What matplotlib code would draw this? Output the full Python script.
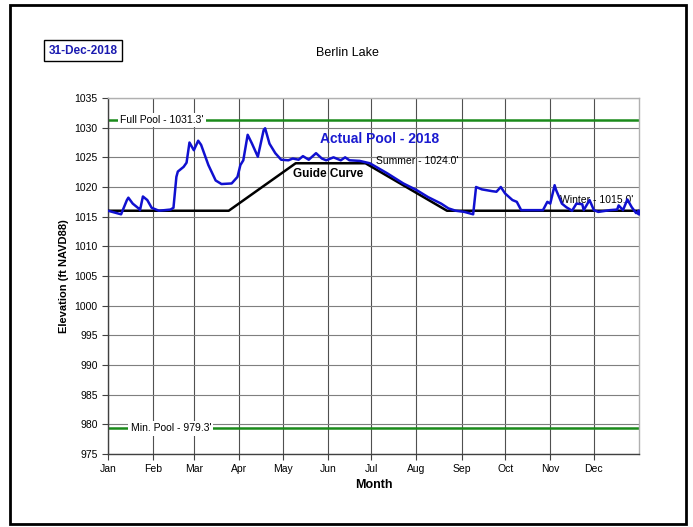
import matplotlib
matplotlib.use("Agg")
import matplotlib.pyplot as plt
from matplotlib.patches import Rectangle

plt.rcParams['font.family'] = ['Liberation Sans', 'DejaVu Sans']

# ---- data ----
months = ["Jan", "Feb", "Mar", "Apr", "May", "Jun", "Jul", "Aug", "Sep", "Oct", "Nov", "Dec"]
month_start_days = [0, 31, 59, 90, 120, 151, 181, 212, 243, 273, 304, 334]
y_ticks = list(range(975, 1036, 5))

actual_days = [0, 9, 13, 14, 17, 21, 22, 24, 27, 30, 35, 43, 45, 47, 48, 52, 54, 56, 59, 62,
               64, 69, 74, 78, 85, 89, 91, 93, 96, 99, 103, 107, 108, 111, 115, 119, 124,
               127, 131, 134, 138, 143, 147, 150, 155, 160, 163, 166, 173, 180, 192, 203,
               212, 220, 229, 234, 239, 245, 251, 253, 257, 264, 267, 270, 273, 278, 281,
               284, 294, 299, 302, 304, 307, 308, 312, 315, 319, 322, 326, 327, 331, 334,
               337, 345, 350, 351, 354, 357, 360, 363, 365]
actual_elev = [1016.0, 1015.4, 1017.8, 1018.2, 1017.2, 1016.4, 1016.1, 1018.4, 1017.8, 1016.5,
               1016.0, 1016.2, 1016.5, 1021.7, 1022.6, 1023.4, 1024.1, 1027.5, 1026.2, 1027.8,
               1027.1, 1023.7, 1021.1, 1020.5, 1020.6, 1021.7, 1023.7, 1024.5, 1028.8, 1027.3,
               1025.1, 1029.6, 1029.9, 1027.3, 1025.7, 1024.6, 1024.5, 1024.8, 1024.6, 1025.2,
               1024.6, 1025.7, 1024.8, 1024.5, 1025.0, 1024.5, 1025.0, 1024.5, 1024.4, 1024.0,
               1022.3, 1020.6, 1019.5, 1018.3, 1017.2, 1016.4, 1016.0, 1015.8, 1015.4, 1020.0,
               1019.6, 1019.3, 1019.2, 1020.0, 1018.9, 1017.8, 1017.5, 1016.1, 1016.1, 1016.1,
               1017.5, 1017.2, 1020.3, 1019.5, 1017.2, 1016.6, 1016.0, 1017.2, 1017.1, 1016.1,
               1017.8, 1016.1, 1015.8, 1016.1, 1016.2, 1016.9, 1016.1, 1017.9, 1016.6, 1015.6,
               1015.8]

guide_days = [0, 83, 129, 177, 233, 365]
guide_elev = [1016.0, 1016.0, 1024.0, 1024.0, 1016.0, 1016.0]

full_pool = 1031.3
min_pool = 979.3

# ---- figure ----
fig = plt.figure(figsize=(6.93, 5.27), dpi=100)
fig.patch.set_facecolor("white")
fig.add_artist(Rectangle((9.5 / 693, 1 - 524 / 527), 676 / 693, 519 / 527,
                         transform=fig.transFigure, fill=False, edgecolor="black", linewidth=2))

ax = fig.add_axes([108 / 693, 1 - 454 / 527, 531 / 693, 356 / 527])
ax.set_xlim(0, 365)
ax.set_ylim(975, 1035)

ax.set_yticks(y_ticks)
ax.set_yticklabels([str(v) for v in y_ticks], fontsize=7.5)
ax.set_xticks(month_start_days)
ax.set_xticklabels(months, fontsize=7.5)
ax.tick_params(axis="both", direction="out", length=4, width=0.8, colors="#404040", labelcolor="black")

ax.grid(axis="y", color="#7f7f7f", linewidth=0.8)
ax.grid(axis="x", color="#505050", linewidth=0.8)
ax.set_axisbelow(True)

for s in ["top", "right"]:
    ax.spines[s].set_color("#b0b0b0")
    ax.spines[s].set_linewidth(1.0)
for s in ["left", "bottom"]:
    ax.spines[s].set_color("#404040")
    ax.spines[s].set_linewidth(1.0)

# pool lines
ax.axhline(full_pool, color="#1a8a1a", linewidth=1.8, zorder=2)
ax.axhline(min_pool, color="#1a8a1a", linewidth=1.8, zorder=2)
ax.text(8.5, full_pool, "Full Pool - 1031.3'", fontsize=7.5, va="center", ha="left",
        bbox=dict(facecolor="white", edgecolor="none", pad=1.5), zorder=3)
ax.text(15.5, min_pool, "Min. Pool - 979.3'", fontsize=7.5, va="center", ha="left",
        bbox=dict(facecolor="white", edgecolor="none", pad=1.5), zorder=3)

# guide curve and actual
ax.plot(guide_days, guide_elev, color="black", linewidth=1.8, zorder=4)
ax.plot(actual_days, actual_elev, color="#1010d0", linewidth=1.8, zorder=5)
ax.plot(actual_days[-1:], actual_elev[-1:], "o", color="#1010d0", markersize=3.5, zorder=6)

ax.text(146, 1028.1, "Actual Pool - 2018", color="#1a1ad0", fontsize=10, fontweight="bold",
        ha="left", va="center")
ax.text(127, 1022.2, "Guide Curve", color="black", fontsize=8.5, fontweight="bold",
        ha="left", va="center")
ax.text(184, 1024.3, "Summer - 1024.0'", color="black", fontsize=7.5, ha="left", va="center")
ax.text(311, 1017.8, "Winter - 1015.0'", color="black", fontsize=7.5, ha="left", va="center")

ax.set_ylabel("Elevation (ft NAVD88)", fontsize=8, fontweight="bold", labelpad=4)
ax.set_xlabel("Month", fontsize=9, fontweight="bold", labelpad=3)

fig.text(347 / 693, 1 - 53 / 527, "Berlin Lake", fontsize=9, ha="center", va="center")
fig.text(83 / 693, 1 - 50.5 / 527, "31-Dec-2018", fontsize=8.5, fontweight="bold", color="#1a1ab0",
         ha="center", va="center",
         bbox=dict(facecolor="white", edgecolor="black", linewidth=1.0, boxstyle="square,pad=0.4"))

fig.savefig("out.png", dpi=100)
